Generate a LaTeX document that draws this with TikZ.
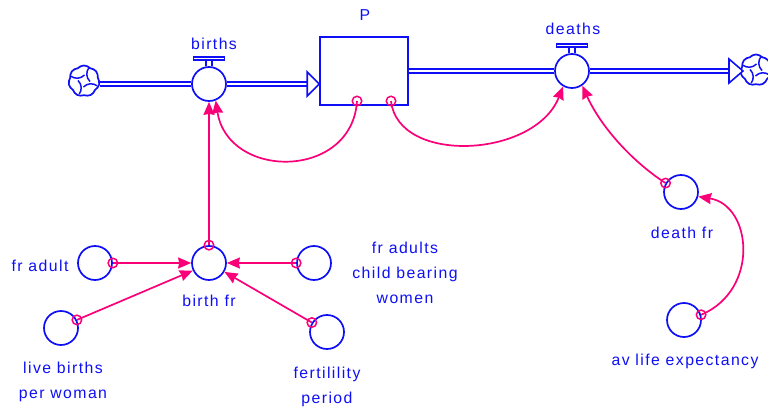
\documentclass[tikz,border=0pt]{standalone}
\usepackage{fontspec}
\setmainfont{Liberation Sans}[LetterSpace=9]
\usetikzlibrary{arrows.meta,shapes.symbols}
\definecolor{vblue}{RGB}{15,15,245}
\definecolor{vpink}{RGB}{250,0,120}

\begin{document}
\begin{tikzpicture}[x=1pt,y=-1pt,
  every node/.style={font=\fontsize{15.8}{25}\selectfont, text=vblue},
  aux/.style={circle, draw=vblue, line width=1.7pt, minimum size=34pt, inner sep=0pt},
  stock/.style={rectangle, draw=vblue, line width=1.6pt, minimum width=88pt, minimum height=68pt, inner sep=0pt},
  pipe/.style={draw=vblue, line width=1.4pt, double=white, double distance=2.4pt},
  pipehead/.style={draw=vblue, line width=1.6pt, fill=white, line join=miter},
  handle/.style={draw=vblue, line width=1.5pt},
  link/.style={draw=vpink, line width=1.7pt, -{Stealth[length=13pt,width=11pt,inset=1pt]}},
  tail/.style={circle, draw=vpink, line width=1.5pt, minimum size=9.5pt, inner sep=0pt},
  lbl/.style={align=center, inner sep=0pt},
  cloudy/.style={cloud, draw=vblue, line width=1.7pt, cloud puffs=7, cloud puff arc=95, aspect=1, minimum size=31pt, inner sep=0pt},
  curl/.style={draw=vblue, line width=1.5pt}
]
\useasboundingbox (0,0) rectangle (768,409);

% ---- stock and flows ----
\node[stock] (P) at (364,71) {};
\node[lbl] (PLbl) at (365,15) {P};

\node[cloudy] (srcCloud) at (84,81) {};
\node[cloudy] (sinkCloud) at (756,70) {};
\foreach \c in {srcCloud,sinkCloud}
  \foreach \a in {20,110,200,290}
    \draw[curl] ([shift={(\a:14)}]\c.center) to[bend right=40] ([shift={(\a+75:6)}]\c.center);

\node[aux] (births) at (209,84) {};
\node[lbl] (birthsLbl) at (214,44) {births};
\node[aux] (deaths) at (572,71) {};
\node[lbl] (deathsLbl) at (573,29) {deaths};

% valve handles
\foreach \v in {births,deaths}{
  \draw[handle] (\v.north) ++(-3,0) -- ++(0,-6) ++(6,0) -- ++(0,6);
  \draw[handle] (\v.north) ++(-15.5,-6) rectangle ++(31,-3);
}

% inflow pipe
\coordinate (inTip) at (P.west |- births);
\coordinate (inBase) at ([xshift=-12pt]inTip);
\draw[pipe] (srcCloud.east |- births) -- (births.west);
\draw[pipe] (births.east) -- (inBase);
\draw[pipehead] (inTip) -- ++(-12,-12) -- ++(0,24) -- cycle;

% outflow pipe
\coordinate (outTip) at (743,71);
\coordinate (outBase) at ([xshift=-14pt]outTip);
\draw[pipe] (P.east |- deaths) -- (deaths.west);
\draw[pipe] (deaths.east) -- (outBase);
\draw[pipehead] (outTip) -- ++(-14,-12) -- ++(0,24) -- cycle;

% ---- auxiliaries ----
\node[aux] (birthfr) at (209,263) {};
\node[lbl] (birthfrLbl) at (209,301) {birth fr};
\node[aux] (fradult) at (95,263) {};
\node[lbl] (fradultLbl) at (40,266) {fr adult};
\node[aux] (frcbw) at (314,263) {};
\node[lbl] (frcbwLbl) at (405,273) {fr adults\\child bearing\\women};
\node[aux] (lbpw) at (61,328) {};
\node[lbl] (lbpwLbl) at (63,382) {live births\\per woman};
\node[aux] (fperiod) at (327,332) {};
\node[lbl] (fperiodLbl) at (327,387) {fertilility\\period};
\node[aux] (deathfr) at (681,192) {};
\node[lbl] (deathfrLbl) at (682,233) {death fr};
\node[aux] (avlife) at (684,320) {};
\node[lbl] (avlifeLbl) at (685,361) {av life expectancy};

% ---- information links ----
\coordinate (tPa) at (357,101);
\coordinate (tPb) at (391,101);

\draw[link] (tPa) .. controls (352,180) and (228,180) .. (births.292);
\draw[link] (tPb) .. controls (398,165) and (535,158) .. (deaths.240);
\draw[link] (deathfr.150) .. controls (630,160) and (600,125) .. (deaths.305);
\draw[link] (avlife.17) .. controls (760,290) and (752,205) .. (deathfr.345);
\draw[link] (birthfr.north) -- (births.south);
\draw[link] (fradult.east) -- (birthfr.west);
\draw[link] (frcbw.west) -- (birthfr.east);
\draw[link] (lbpw.27) -- (birthfr.205);
\draw[link] (fperiod.148) -- (birthfr.330);

% link tails
\node[tail] (tailPa) at (tPa) {};
\node[tail] (tailPb) at (tPb) {};
\node[tail] (tailDfr) at (deathfr.150) {};
\node[tail] (tailAvl) at (avlife.17) {};
\node[tail] (tailBfr) at (birthfr.north) {};
\node[tail] (tailFra) at (fradult.east) {};
\node[tail] (tailCbw) at (frcbw.west) {};
\node[tail] (tailLb) at (lbpw.27) {};
\node[tail] (tailFp) at (fperiod.148) {};
\end{tikzpicture}
\end{document}
